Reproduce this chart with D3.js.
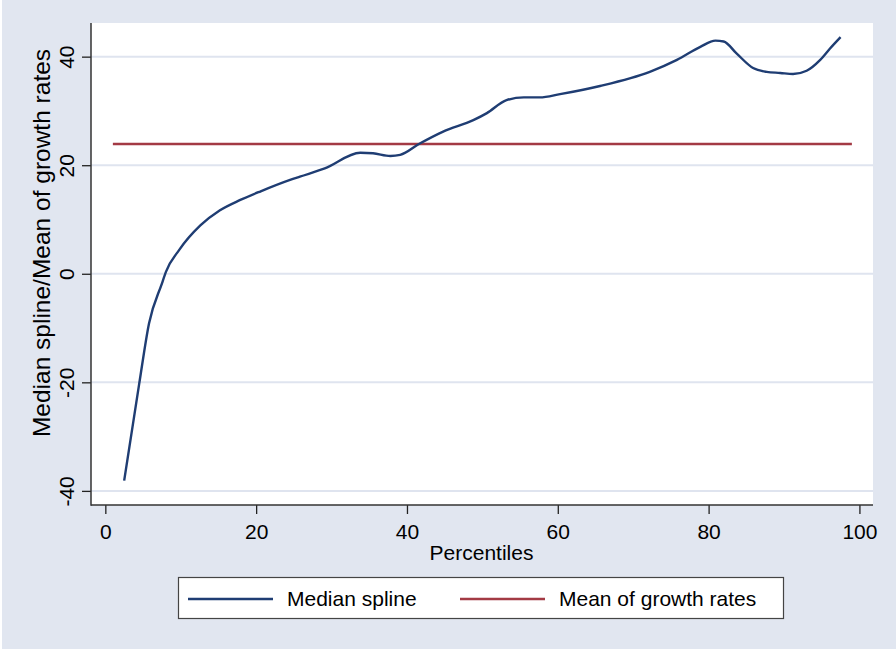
<!DOCTYPE html>
<html><head><meta charset="utf-8">
<script src="https://cdn.jsdelivr.net/npm/d3@7"></script>
<style>body{margin:0;background:#fff}svg{display:block}text{font-family:"Liberation Sans",Arial,sans-serif;fill:#000}</style>
</head><body><svg id="c" width="896" height="650"></svg>
<script>
const percentiles = [2.5,4.5,5.8,7.5,8.05,9.8,12.6,15.2,17.9,20.6,24.5,25.8,29.1,33.8,35.5,37.8,39.1,41.7,44.8,48.8,50.6,53.2,55.5,57.6,60.3,65.6,72.2,75.8,78.9,80.9,82.0,83.7,85.9,87.7,89.5,91.2,93.0,94.8,96.1,97.5];
const medianSpline = [-38.1,-20.2,-9.1,-1.8,0.4,4.4,8.9,11.7,13.6,15.2,17.3,17.9,19.4,22.3,22.2,21.7,21.9,24.0,26.2,28.3,29.6,32.0,32.5,32.5,33.1,34.6,37.2,39.4,41.8,42.95,42.8,40.6,37.9,37.2,37.0,36.8,37.4,39.4,41.5,43.6];
const meanX = [1, 99];
const meanGrowth = [23.9, 23.9];
const xTicks = [0,20,40,60,80,100];
const yTicks = [-40,-20,0,20,40];
const seriesNames = ["Median spline","Mean of growth rates"];
const colors = ["#1f3d73","#a33a44"];

const svg = d3.select("#c");
svg.append("rect").attr("x",2).attr("y",0).attr("width",894).attr("height",649).attr("fill","#e1e6f0");
const L=91,R=873,T=23,B=505;
const x = d3.scaleLinear().domain([-1.9,101.8]).range([L,R]);
const y = d3.scaleLinear().domain([-42.6,46.2]).range([B,T]);
svg.append("rect").attr("x",L).attr("y",T).attr("width",R-L).attr("height",B-T).attr("fill","#fff");
// grid
svg.append("g").selectAll("line").data(yTicks).join("line")
  .attr("x1",L).attr("x2",R).attr("y1",d=>y(d)).attr("y2",d=>y(d))
  .attr("stroke","#dfe4ef").attr("stroke-width",2);
// axes
const fmt = d => String(d);
const ya = svg.append("g").attr("transform",`translate(${L},0)`)
  .call(d3.axisLeft(y).tickValues(yTicks).tickSize(9).tickFormat(fmt));
ya.select(".domain").remove();
ya.selectAll("line").attr("stroke","#222").attr("stroke-width",1.3);
ya.selectAll("text").attr("x",0).attr("y",0).attr("dy",0)
  .attr("transform",`translate(${74-L},0) rotate(-90)`)
  .attr("text-anchor","middle").style("font-size","21px");
const xa = svg.append("g").attr("transform",`translate(0,${B})`)
  .call(d3.axisBottom(x).tickValues(xTicks).tickSize(9).tickFormat(fmt));
xa.select(".domain").remove();
xa.selectAll("line").attr("stroke","#222").attr("stroke-width",1.3);
xa.selectAll("text").attr("y",34).attr("dy",0).style("font-size","21px");
svg.append("line").attr("x1",L).attr("x2",L).attr("y1",T).attr("y2",B+0.7).attr("stroke","#333").attr("stroke-width",1.5);
svg.append("line").attr("x1",L).attr("x2",R).attr("y1",B).attr("y2",B).attr("stroke","#333").attr("stroke-width",1.5);
// titles
svg.append("text").attr("x",(430+533)/2).attr("y",560).attr("text-anchor","middle").style("font-size","21px").text("Percentiles");
svg.append("text").attr("transform","translate(50,243) rotate(-90)").attr("text-anchor","middle").style("font-size","24.5px").text("Median spline/Mean of growth rates");
// lines
const line = d3.line().x(d=>x(d[0])).y(d=>y(d[1])).curve(d3.curveMonotoneX);
svg.append("path").attr("d",line(meanX.map((v,i)=>[v,meanGrowth[i]]))).attr("fill","none").attr("stroke",colors[1]).attr("stroke-width",2.6);
svg.append("path").attr("d",line(percentiles.map((v,i)=>[v,medianSpline[i]]))).attr("fill","none").attr("stroke",colors[0]).attr("stroke-width",2.4);
// legend
const lg = svg.append("g");
lg.append("rect").attr("x",178.5).attr("y",577.5).attr("width",605).attr("height",41).attr("fill","#fff").attr("stroke","#444").attr("stroke-width",1.2);
const items=[{x1:188,x2:273,tx:287},{x1:460,x2:545,tx:559}];
items.forEach((it,i)=>{
  lg.append("line").attr("x1",it.x1).attr("x2",it.x2).attr("y1",599).attr("y2",599).attr("stroke",colors[i]).attr("stroke-width",2.6);
  lg.append("text").attr("x",it.tx).attr("y",606).style("font-size","21px").text(seriesNames[i]);
});
</script></body></html>
